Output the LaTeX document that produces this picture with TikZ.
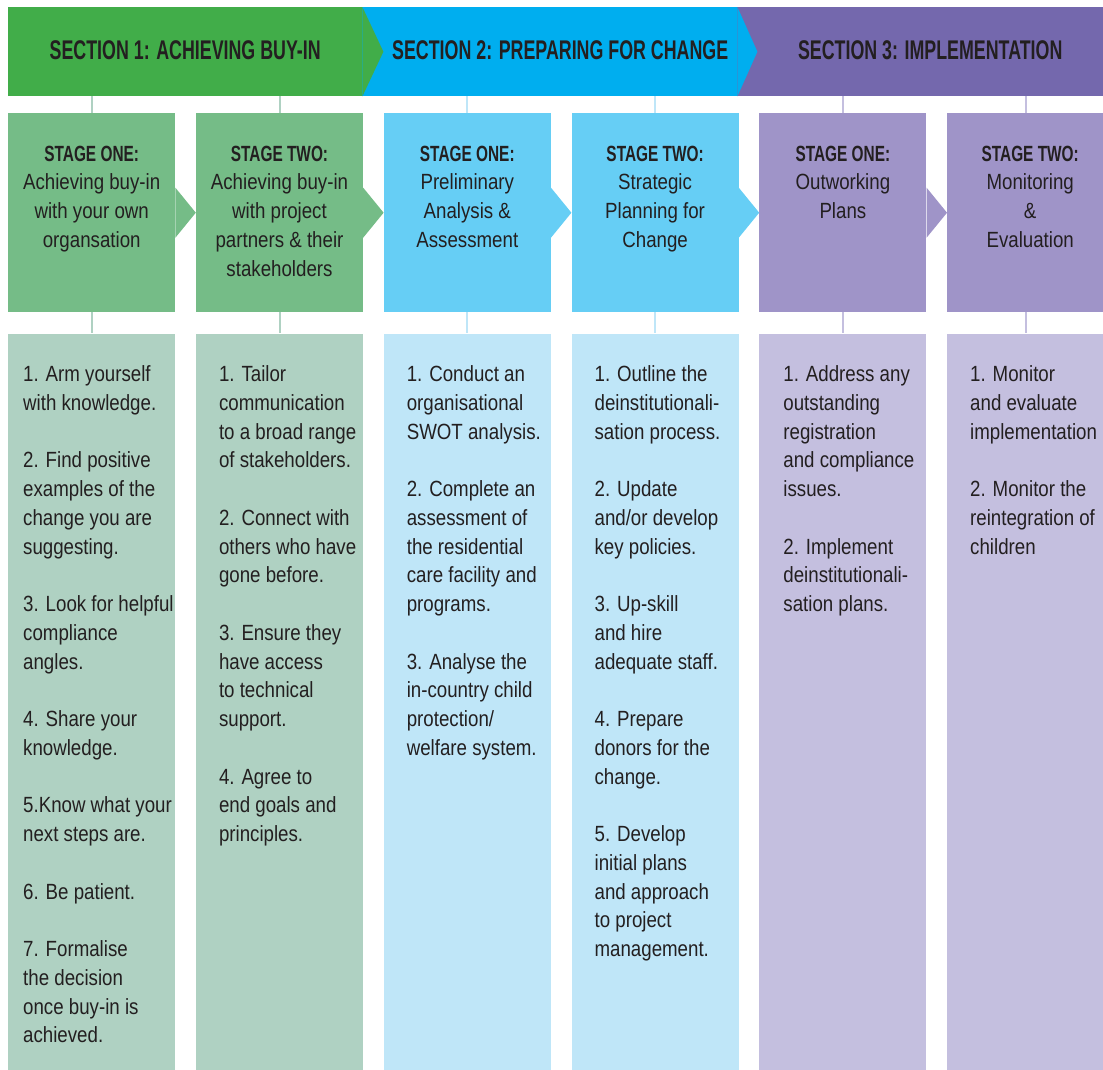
\documentclass[tikz,border=0pt]{standalone}
\usepackage{fontspec}
\setmainfont{Liberation Sans}[FakeStretch=0.85]
\newfontfamily\hdfont{Liberation Sans}[FakeStretch=0.70]
\newfontfamily\secfont{Liberation Sans}[FakeStretch=0.66]
\usetikzlibrary{positioning}

\definecolor{hdgreen}{HTML}{41AD49}
\definecolor{hdblue}{HTML}{00AEEF}
\definecolor{hdpurple}{HTML}{7468AD}
\definecolor{stgreen}{HTML}{75BC87}
\definecolor{stblue}{HTML}{66CEF5}
\definecolor{stpurple}{HTML}{9F94C8}
\definecolor{lsgreen}{HTML}{AFD1C2}
\definecolor{lsblue}{HTML}{BFE6F8}
\definecolor{lspurple}{HTML}{C4BFDF}
\definecolor{txtdark}{HTML}{231F20}

\newcommand{\colstrut}{\rule{0pt}{20pt}}
\newcommand{\gapline}{\\[28.75pt]}

\tikzset{
  secband/.style={
    rectangle,
    inner sep=0pt,
    minimum height=89pt,
    anchor=north west},
  sectitle/.style={
    inner sep=0pt,
    text=txtdark,
    font=\secfont\bfseries\fontsize{27}{32}\selectfont},
  stagebox/.style={
    rectangle,
    inner sep=0pt,
    minimum width=167pt,
    minimum height=199pt},
  listbox/.style={
    rectangle,
    inner sep=0pt,
    minimum width=167pt,
    minimum height=736pt},
  stagetext/.style={
    inner sep=0pt,
    align=center,
    text=txtdark,
    font=\fontsize{22}{28.75}\selectfont},
  listtext/.style={
    inner sep=0pt,
    align=left,
    text=txtdark,
    font=\fontsize{22}{28.75}\selectfont},
  conn/.style={line width=2pt},
}

\begin{document}
\begin{tikzpicture}
[x=1pt, y=1pt,
  node distance=20.4pt]

    \useasboundingbox (0,0) rectangle (1103,-1069);

    % section bands
    \node [secband, fill=hdgreen, minimum width=354pt] (h1) at (8,-7) {};
    \node [secband, fill=hdblue, minimum width=375pt] (h2) at (362,-7) {};
    \node [secband, fill=hdpurple, minimum width=366pt] (h3) at (737,-7) {};
    \fill [hdgreen] (h1.north east) -- ([xshift=21pt]h1.east) -- (h1.south east) -- cycle;
    \fill [hdblue] (h2.north east) -- ([xshift=20pt]h2.east) -- (h2.south east) -- cycle;

    \node [sectitle] (sec1) at ([yshift=1.5pt]h1.center) {SECTION 1: ACHIEVING BUY-IN};
    \node [sectitle] (sec2) at ([xshift=10.5pt,yshift=1.5pt]h2.center) {SECTION 2: PREPARING FOR CHANGE};
    \node [sectitle] (sec3) at ([xshift=10pt,yshift=1.5pt]h3.center) {SECTION 3: IMPLEMENTATION};

    % stage boxes
    \node [stagebox, fill=stgreen, anchor=north west] (st1) at (8,-113) {};
    \node [stagebox, fill=stgreen, right=of st1] (st2) {};
    \node [stagebox, fill=stblue, right=of st2] (st3) {};
    \node [stagebox, fill=stblue, right=of st3] (st4) {};
    \node [stagebox, fill=stpurple, right=of st4] (st5) {};
    \node [stagebox, fill=stpurple, right=of st5, minimum width=158pt] (st6) {};

    \foreach \s/\c in {st1/stgreen, st2/stgreen, st3/stblue, st4/stblue, st5/stpurple}
        \fill [\c] ([yshift=25pt]\s.east) -- ([xshift=20.4pt]\s.east) -- ([yshift=-25pt]\s.east) -- cycle;

    % list boxes
    \node [listbox, fill=lsgreen, below=21pt of st1] (ls1) {};
    \node [listbox, fill=lsgreen, below=21pt of st2] (ls2) {};
    \node [listbox, fill=lsblue, below=21pt of st3] (ls3) {};
    \node [listbox, fill=lsblue, below=21pt of st4] (ls4) {};
    \node [listbox, fill=lspurple, below=21pt of st5] (ls5) {};
    \node [listbox, fill=lspurple, below=21pt of st6, minimum width=158pt] (ls6) {};

    % connectors
    \foreach \s/\l/\h/\c in {st1/ls1/h1/lsgreen, st2/ls2/h1/lsgreen, st3/ls3/h2/lsblue,
                             st4/ls4/h2/lsblue, st5/ls5/h3/lspurple, st6/ls6/h3/lspurple}{
        \draw [conn, \c] (\s.north) -- (\s.north |- \h.south);
        \draw [conn, \c] (\s.south) -- (\l.north);
    }

    % stage texts
    \node [stagetext, below=28pt of st1.north] (sx1)
        {\colstrut{\hdfont\bfseries STAGE ONE:}\\ Achieving buy-in\\ with your own\\ organsation};
    \node [stagetext, below=28pt of st2.north] (sx2)
        {\colstrut{\hdfont\bfseries STAGE TWO:}\\ Achieving buy-in\\ with project\\ partners \& their\\ stakeholders};
    \node [stagetext, below=28pt of st3.north] (sx3)
        {\colstrut{\hdfont\bfseries STAGE ONE:}\\ Preliminary\\ Analysis \&\\ Assessment};
    \node [stagetext, below=28pt of st4.north] (sx4)
        {\colstrut{\hdfont\bfseries STAGE TWO:}\\ Strategic\\ Planning for\\ Change};
    \node [stagetext, below=28pt of st5.north] (sx5)
        {\colstrut{\hdfont\bfseries STAGE ONE:}\\ Outworking\\ Plans};
    \node [stagetext, below=28pt of st6.north, xshift=4pt] (sx6)
        {\colstrut{\hdfont\bfseries STAGE TWO:}\\ Monitoring\\ \&\\ Evaluation};

    % list texts
    \node [listtext, below right=28pt and 15pt of ls1.north west] (lx1)
        {\colstrut 1. Arm yourself\\ with knowledge.\gapline
         2. Find positive\\ examples of the\\ change you are\\ suggesting.\gapline
         3. Look for helpful\\ compliance\\ angles.\gapline
         4. Share your\\ knowledge.\gapline
         5.Know what your\\ next steps are.\gapline
         6. Be patient.\gapline
         7. Formalise\\ the decision\\ once buy-in is\\ achieved.};
    \node [listtext, below right=28pt and 23pt of ls2.north west] (lx2)
        {\colstrut 1. Tailor\\ communication\\ to a broad range\\ of stakeholders.\gapline
         2. Connect with\\ others who have\\ gone before.\gapline
         3. Ensure they\\ have access\\ to technical\\ support.\gapline
         4. Agree to\\ end goals and\\ principles.};
    \node [listtext, below right=28pt and 23pt of ls3.north west] (lx3)
        {\colstrut 1. Conduct an\\ organisational\\ SWOT analysis.\gapline
         2. Complete an\\ assessment of\\ the residential\\ care facility and\\ programs.\gapline
         3. Analyse the\\ in-country child\\ protection/\\ welfare system.};
    \node [listtext, below right=28pt and 23pt of ls4.north west] (lx4)
        {\colstrut 1. Outline the\\ deinstitutionali-\\ sation process.\gapline
         2. Update\\ and/or develop\\ key policies.\gapline
         3. Up-skill\\ and hire\\ adequate staff.\gapline
         4. Prepare\\ donors for the\\ change.\gapline
         5. Develop\\ initial plans\\ and approach\\ to project\\ management.};
    \node [listtext, below right=28pt and 24pt of ls5.north west] (lx5)
        {\colstrut 1. Address any\\ outstanding\\ registration\\ and compliance\\ issues.\gapline
         2. Implement\\ deinstitutionali-\\ sation plans.};
    \node [listtext, below right=28pt and 23pt of ls6.north west] (lx6)
        {\colstrut 1. Monitor\\ and evaluate\\ implementation\gapline
         2. Monitor the\\ reintegration of\\ children};

\end{tikzpicture}
\end{document}
